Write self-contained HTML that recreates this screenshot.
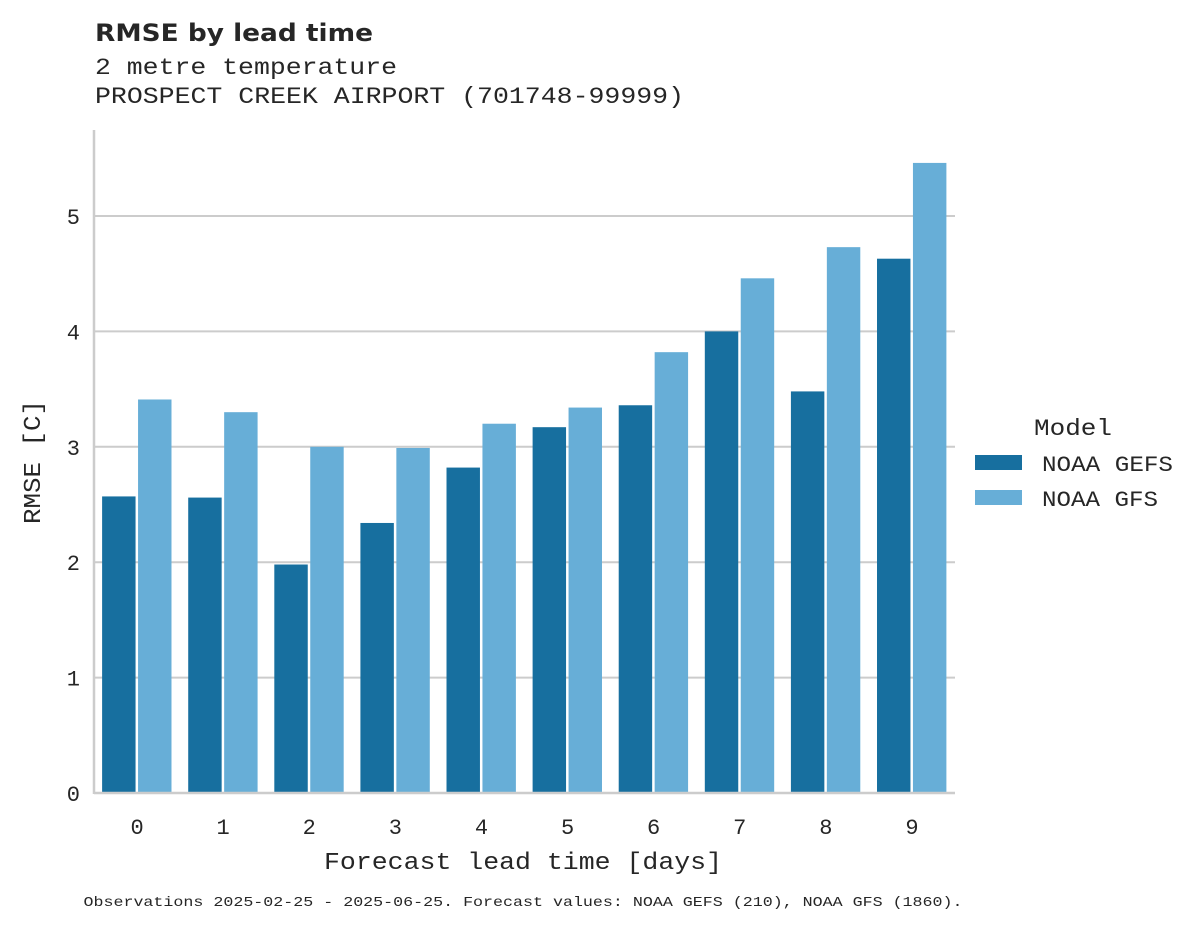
<!DOCTYPE html>
<html><head><meta charset="utf-8"><style>
html,body{margin:0;padding:0;background:#fff}
svg{display:block}
text{fill:#262626}
.mono{font-family:"Liberation Mono","DejaVu Sans Mono",monospace}
</style></head><body>
<svg id="chart" width="1195" height="928" xmlns="http://www.w3.org/2000/svg">
<text x="95" y="41" font-family="DejaVu Sans, Liberation Sans, sans-serif" font-weight="bold" font-size="24" textLength="278" lengthAdjust="spacingAndGlyphs">RMSE by lead time</text>
<text class="mono" x="95" y="74" font-size="23" textLength="302" lengthAdjust="spacingAndGlyphs">2 metre temperature</text>
<text class="mono" x="95" y="103" font-size="23" textLength="589" lengthAdjust="spacingAndGlyphs">PROSPECT CREEK AIRPORT (701748-99999)</text>
<g id="grid"></g>
<g id="bars"></g>
<g id="axes"></g>
<text class="mono" x="523" y="869" font-size="24" text-anchor="middle" textLength="398" lengthAdjust="spacingAndGlyphs">Forecast lead time [days]</text>
<text class="mono" font-size="24" text-anchor="middle" transform="translate(40,462) rotate(-90)" textLength="124" lengthAdjust="spacingAndGlyphs">RMSE [C]</text>
<text class="mono" x="523" y="906" font-size="14" text-anchor="middle" textLength="879" lengthAdjust="spacingAndGlyphs">Observations 2025-02-25 - 2025-06-25. Forecast values: NOAA GEFS (210), NOAA GFS (1860).</text>
<g>
<text class="mono" x="1034" y="435" font-size="23" textLength="78" lengthAdjust="spacingAndGlyphs">Model</text>
<rect x="975" y="455" width="47" height="15" fill="#176f9f"/>
<text class="mono" x="1042" y="471" font-size="22" textLength="131" lengthAdjust="spacingAndGlyphs">NOAA GEFS</text>
<rect x="975" y="490" width="47" height="15" fill="#67aed7"/>
<text class="mono" x="1042" y="506" font-size="22" textLength="116" lengthAdjust="spacingAndGlyphs">NOAA GFS</text>
</g>
</svg>
<script>
const categories = [0,1,2,3,4,5,6,7,8,9];
const gefsValues = [2.57,2.56,1.98,2.34,2.82,3.17,3.36,4.00,3.48,4.63];
const gfsValues = [3.41,3.30,3.00,2.99,3.20,3.34,3.82,4.46,4.73,5.46];
const yTicks = [0,1,2,3,4,5];
const NS = "http://www.w3.org/2000/svg";
const left = 94, right = 955, y0 = 793, pxPerUnit = 115.4;
const band = (right - left) / categories.length;
function xCenter(i){ return left + band * (i + 0.5); }
function yPos(v){ return y0 - v * pxPerUnit; }
function mk(tag, attrs, parent){ const e = document.createElementNS(NS, tag); for (const k in attrs) e.setAttribute(k, attrs[k]); parent.appendChild(e); return e; }
const grid = document.getElementById('grid'), bars = document.getElementById('bars'), axes = document.getElementById('axes');
yTicks.forEach(t => {
  if (t > 0) {
    const g = mk('line', {x1:left, x2:right, y1:yPos(t), y2:yPos(t), stroke:'#cccccc', 'stroke-width':2}, grid);
    
    
  }
  const tx = mk('text', {x:80, y:yPos(t)+8, 'font-size':22, 'text-anchor':'end', class:'mono'}, axes);
  tx.textContent = t;
  
  
});
const bw = band * 0.4;
categories.forEach((c, i) => {
  const cx = xCenter(i);
  const b1 = mk('rect', {x:cx - bw - 0.5, y:yPos(gefsValues[i]), width:bw - 1, height:gefsValues[i]*pxPerUnit, fill:'#176f9f'}, bars);
  
  
  const b2 = mk('rect', {x:cx + 1, y:yPos(gfsValues[i]), width:bw - 1, height:gfsValues[i]*pxPerUnit, fill:'#67aed7'}, bars);
  
  
  const tx = mk('text', {x:cx, y:834, 'font-size':22, 'text-anchor':'middle', class:'mono'}, axes);
  tx.textContent = c;
  
  
});
const ya = mk('line', {x1:left, x2:left, y1:130, y2:y0+1, stroke:'#cccccc', 'stroke-width':2.5}, axes);


const xa = mk('line', {x1:left, x2:right, y1:y0, y2:y0, stroke:'#cccccc', 'stroke-width':2.5}, axes);


</script>
</body></html>
